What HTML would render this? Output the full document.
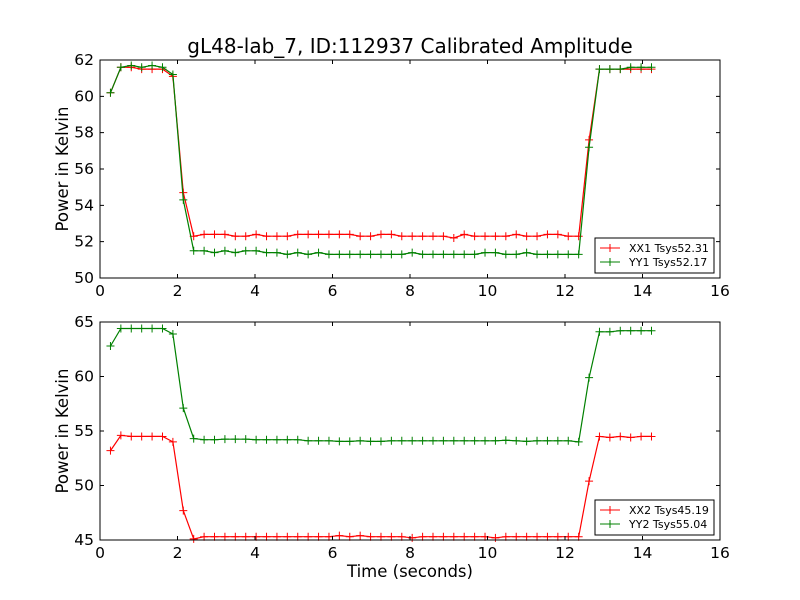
<!DOCTYPE html>
<html><head><meta charset="utf-8"><style>
body{margin:0;background:#fff;}
svg{display:block;font-family:"DejaVu Sans","Liberation Sans",sans-serif;}
</style></head><body>
<svg id="c" width="800" height="600">
<rect width="800" height="600" fill="#fff"/>
<text x="410" y="53" text-anchor="middle" font-size="20">gL48-lab_7, ID:112937 Calibrated Amplitude</text>
<text x="68" y="169" transform="rotate(-90 68 169)" text-anchor="middle" font-size="16.5">Power in Kelvin</text>
<text x="68" y="431" transform="rotate(-90 68 431)" text-anchor="middle" font-size="16.5">Power in Kelvin</text>
<text x="410" y="577" text-anchor="middle" font-size="16.5">Time (seconds)</text>
<g id="g1"></g>
<g id="g2"></g>
</svg>
<script>
const t0 = 0.27, dt = 0.2685;
const xTicks = [0,2,4,6,8,10,12,14,16];
const yTicks1 = [50,52,54,56,58,60,62];
const yTicks2 = [45,50,55,60,65];
const xx1 = [60.2,61.6,61.6,61.5,61.5,61.5,61.1,54.7,52.3,52.4,52.4,52.4,52.3,52.3,52.4,52.3,52.3,52.3,52.4,52.4,52.4,52.4,52.4,52.4,52.3,52.3,52.4,52.4,52.3,52.3,52.3,52.3,52.3,52.2,52.4,52.3,52.3,52.3,52.3,52.4,52.3,52.3,52.4,52.4,52.3,52.3,57.6,61.5,61.5,61.5,61.5,61.5,61.5];
const yy1 = [60.2,61.6,61.7,61.6,61.7,61.6,61.2,54.3,51.5,51.5,51.4,51.5,51.4,51.5,51.5,51.4,51.4,51.3,51.4,51.3,51.4,51.3,51.3,51.3,51.3,51.3,51.3,51.3,51.3,51.4,51.3,51.3,51.3,51.3,51.3,51.3,51.4,51.4,51.3,51.3,51.4,51.3,51.3,51.3,51.3,51.3,57.2,61.5,61.5,61.5,61.6,61.6,61.6];
const xx2 = [53.2,54.6,54.5,54.5,54.5,54.5,54.0,47.7,45.1,45.3,45.3,45.3,45.3,45.3,45.3,45.3,45.3,45.3,45.3,45.3,45.3,45.3,45.4,45.3,45.4,45.3,45.3,45.3,45.3,45.2,45.3,45.3,45.3,45.3,45.3,45.3,45.3,45.2,45.3,45.3,45.3,45.3,45.3,45.3,45.3,45.3,50.4,54.5,54.4,54.5,54.4,54.5,54.5];
const yy2 = [62.8,64.4,64.4,64.4,64.4,64.4,63.9,57.1,54.3,54.2,54.2,54.25,54.25,54.25,54.2,54.2,54.2,54.2,54.2,54.1,54.1,54.1,54.05,54.05,54.1,54.05,54.05,54.1,54.1,54.1,54.1,54.1,54.1,54.1,54.1,54.1,54.1,54.1,54.15,54.1,54.05,54.1,54.1,54.1,54.1,54.0,59.9,64.1,64.1,64.2,64.2,64.2,64.2];
const NS="http://www.w3.org/2000/svg";
function mk(p,tag,a){const e=document.createElementNS(NS,tag);for(const k in a)e.setAttribute(k,a[k]);p.appendChild(e);return e;}
const X0=100,X1=720;
const xs=v=>X0+(v-0)/16*(X1-X0);
function panel(g,top,bot,ymin,ymax,yt,series,legY){
  const ys=v=>bot-(v-ymin)/(ymax-ymin)*(bot-top);
  series.forEach(s=>{
    let d="";
    s.vals.forEach((v,i)=>{d+=(i?"L":"M")+xs(t0+dt*i).toFixed(1)+","+ys(v).toFixed(1);});
    const l=mk(g,"path",{d:d,fill:"none",stroke:s.col,"stroke-width":1.2});
    
    
    s.vals.forEach((v,i)=>{
      const x=xs(t0+dt*i),y=ys(v);
      const m=mk(g,"path",{d:`M${x-4},${y}H${x+4}M${x},${y-4}V${y+4}`,stroke:s.col,"stroke-width":1});
      
      
    });
  });
  const fr=mk(g,"rect",{x:X0,y:top,width:X1-X0,height:bot-top,fill:"none",stroke:"#000","stroke-width":1});
  
  
  xTicks.forEach(v=>{
    const x=xs(v);
    mk(g,"path",{d:`M${x},${bot}v-4M${x},${top}v4`,stroke:"#000"});
    const t=mk(g,"text",{x:x,y:bot+18,"text-anchor":"middle","font-size":15.5});
    t.textContent=v;
    
    
  });
  yt.forEach(v=>{
    const y=ys(v);
    mk(g,"path",{d:`M${X0},${y}h4M${X1},${y}h-4`,stroke:"#000"});
    const t=mk(g,"text",{x:X0-6,y:y+5,"text-anchor":"end","font-size":15.5});
    t.textContent=v;
    
    
  });
  const lg=mk(g,"g",{});
  
  
  mk(lg,"rect",{x:595,y:legY,width:119,height:35,fill:"#fff",stroke:"#000"});
  series.forEach((s,i)=>{
    const y=legY+10+i*14;
    mk(lg,"path",{d:`M600,${y}h20M610,${y-4}v8`,stroke:s.col,"stroke-width":1});
    const t=mk(lg,"text",{x:629,y:y+4,"font-size":11});
    t.textContent=s.label;
    
    
  });
}
panel(document.getElementById("g1"),60,278,50,62,yTicks1,
 [{vals:xx1,col:"#ff0000",name:"xx1",label:"XX1 Tsys52.31"},{vals:yy1,col:"#008000",name:"yy1",label:"YY1 Tsys52.17"}],238);
panel(document.getElementById("g2"),322,540,45,65,yTicks2,
 [{vals:xx2,col:"#ff0000",name:"xx2",label:"XX2 Tsys45.19"},{vals:yy2,col:"#008000",name:"yy2",label:"YY2 Tsys55.04"}],500);
</script>
</body></html>
